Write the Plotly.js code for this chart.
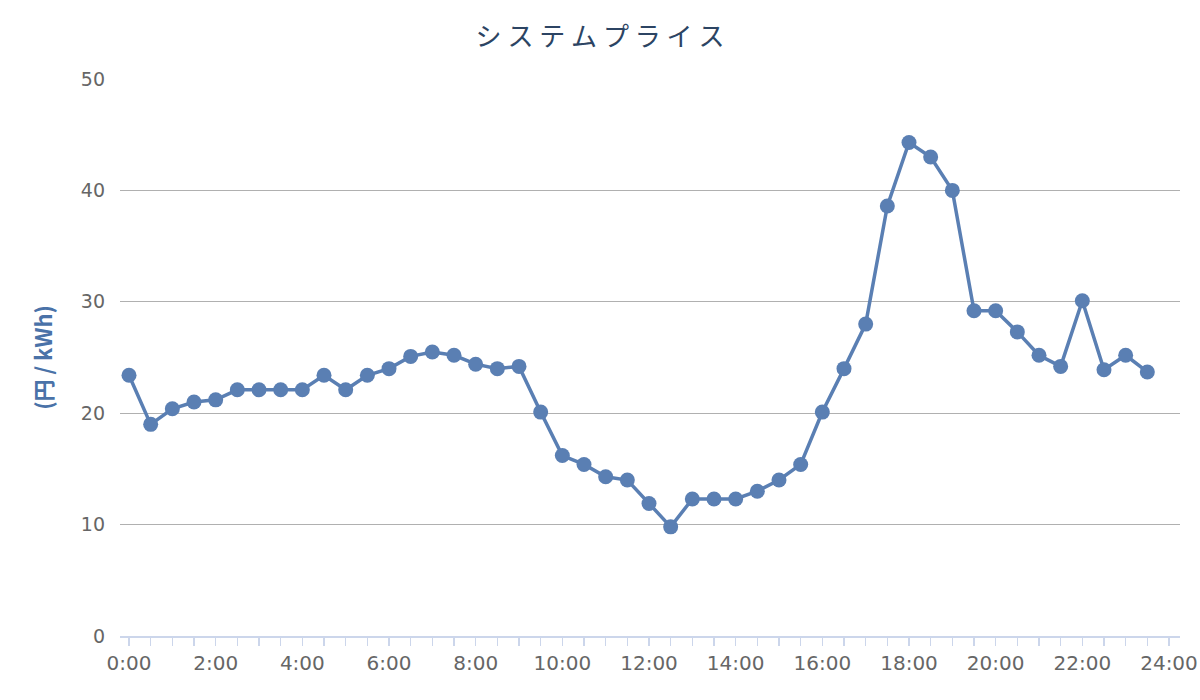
<!DOCTYPE html>
<html>
<head>
<meta charset="utf-8">
<script src="https://cdn.plot.ly/plotly-3.0.1.min.js"></script>
<style>html,body{margin:0;padding:0;background:#fff;}#chart{width:1200px;height:700px;}</style>
</head>
<body>
<div id="chart"></div>
<script>
const times = ['0:00','0:30','1:00','1:30','2:00','2:30','3:00','3:30','4:00','4:30','5:00','5:30',
  '6:00','6:30','7:00','7:30','8:00','8:30','9:00','9:30','10:00','10:30','11:00','11:30',
  '12:00','12:30','13:00','13:30','14:00','14:30','15:00','15:30','16:00','16:30','17:00','17:30',
  '18:00','18:30','19:00','19:30','20:00','20:30','21:00','21:30','22:00','22:30','23:00','23:30'];
const prices = [23.4,19.0,20.4,21.0,21.2,22.1,22.1,22.1,22.1,23.4,22.1,23.4,
  24.0,25.1,25.5,25.2,24.4,24.0,24.2,20.1,16.2,15.4,14.3,14.0,
  11.9,9.8,12.3,12.3,12.3,13.0,14.0,15.4,20.1,24.0,28.0,38.6,
  44.3,43.0,40.0,29.2,29.2,27.3,25.2,24.2,30.1,23.9,25.2,23.7];
const tickLabels = ['0:00','2:00','4:00','6:00','8:00','10:00','12:00','14:00','16:00','18:00','20:00','22:00','24:00'];

function toHours(t){ const p = t.split(':'); return Number(p[0]) + Number(p[1])/60; }
const xs = times.map(toHours);
const tickVals = tickLabels.map(toHours);

const trace = {
  x: xs, y: prices, text: times, type: 'scatter', mode: 'lines+markers',
  line: {color: '#5a7fb3', width: 3.5},
  marker: {color: '#5a7fb3', size: 15},
  hovertemplate: '%{text}: %{y}<extra></extra>'
};

const layout = {
  width: 1200, height: 700,
  margin: {l: 120, r: 20, t: 79, b: 64},
  paper_bgcolor: '#fff', plot_bgcolor: '#fff',
  showlegend: false,
  title: {text: 'シ ス テ ム プ ラ イ ス', x: 0.5, xanchor: 'center', y: 0.947, yanchor: 'middle',
    font: {family: 'Noto Sans CJK JP, sans-serif', size: 26, color: '#2c4463'}},
  xaxis: {
    range: [-0.208, 24.254], showgrid: false, zeroline: false,
    showline: true, linecolor: '#ccd6eb', linewidth: 1.5,
    tickmode: 'array', tickvals: tickVals, ticktext: tickLabels,
    ticks: 'outside', ticklen: 8, tickcolor: '#ccd6eb', tickwidth: 1.5,
    minor: {dtick: 0.5, tick0: 0, ticks: 'outside', ticklen: 8, tickcolor: '#ccd6eb', tickwidth: 1.5, showgrid: false},
    tickfont: {family: 'DejaVu Sans, sans-serif', size: 20, color: '#666666'},
    fixedrange: true
  },
  yaxis: {
    range: [0, 50], dtick: 10, tick0: 0,
    showgrid: true, gridcolor: '#b0b0b0', gridwidth: 1,
    zeroline: false, showline: false, ticks: '',
    ticklabelstandoff: 14,
    tickfont: {family: 'DejaVu Sans, sans-serif', size: 19, color: '#666666'},
    title: {text: '(円 / kWh)', standoff: 22,
      font: {family: 'Noto Sans CJK JP, sans-serif', size: 22, color: '#4a72a8', weight: 'bold'}},
    fixedrange: true
  }
};

Plotly.newPlot('chart', [trace], layout, {displayModeBar: false, staticPlot: true});
</script>
</body>
</html>
